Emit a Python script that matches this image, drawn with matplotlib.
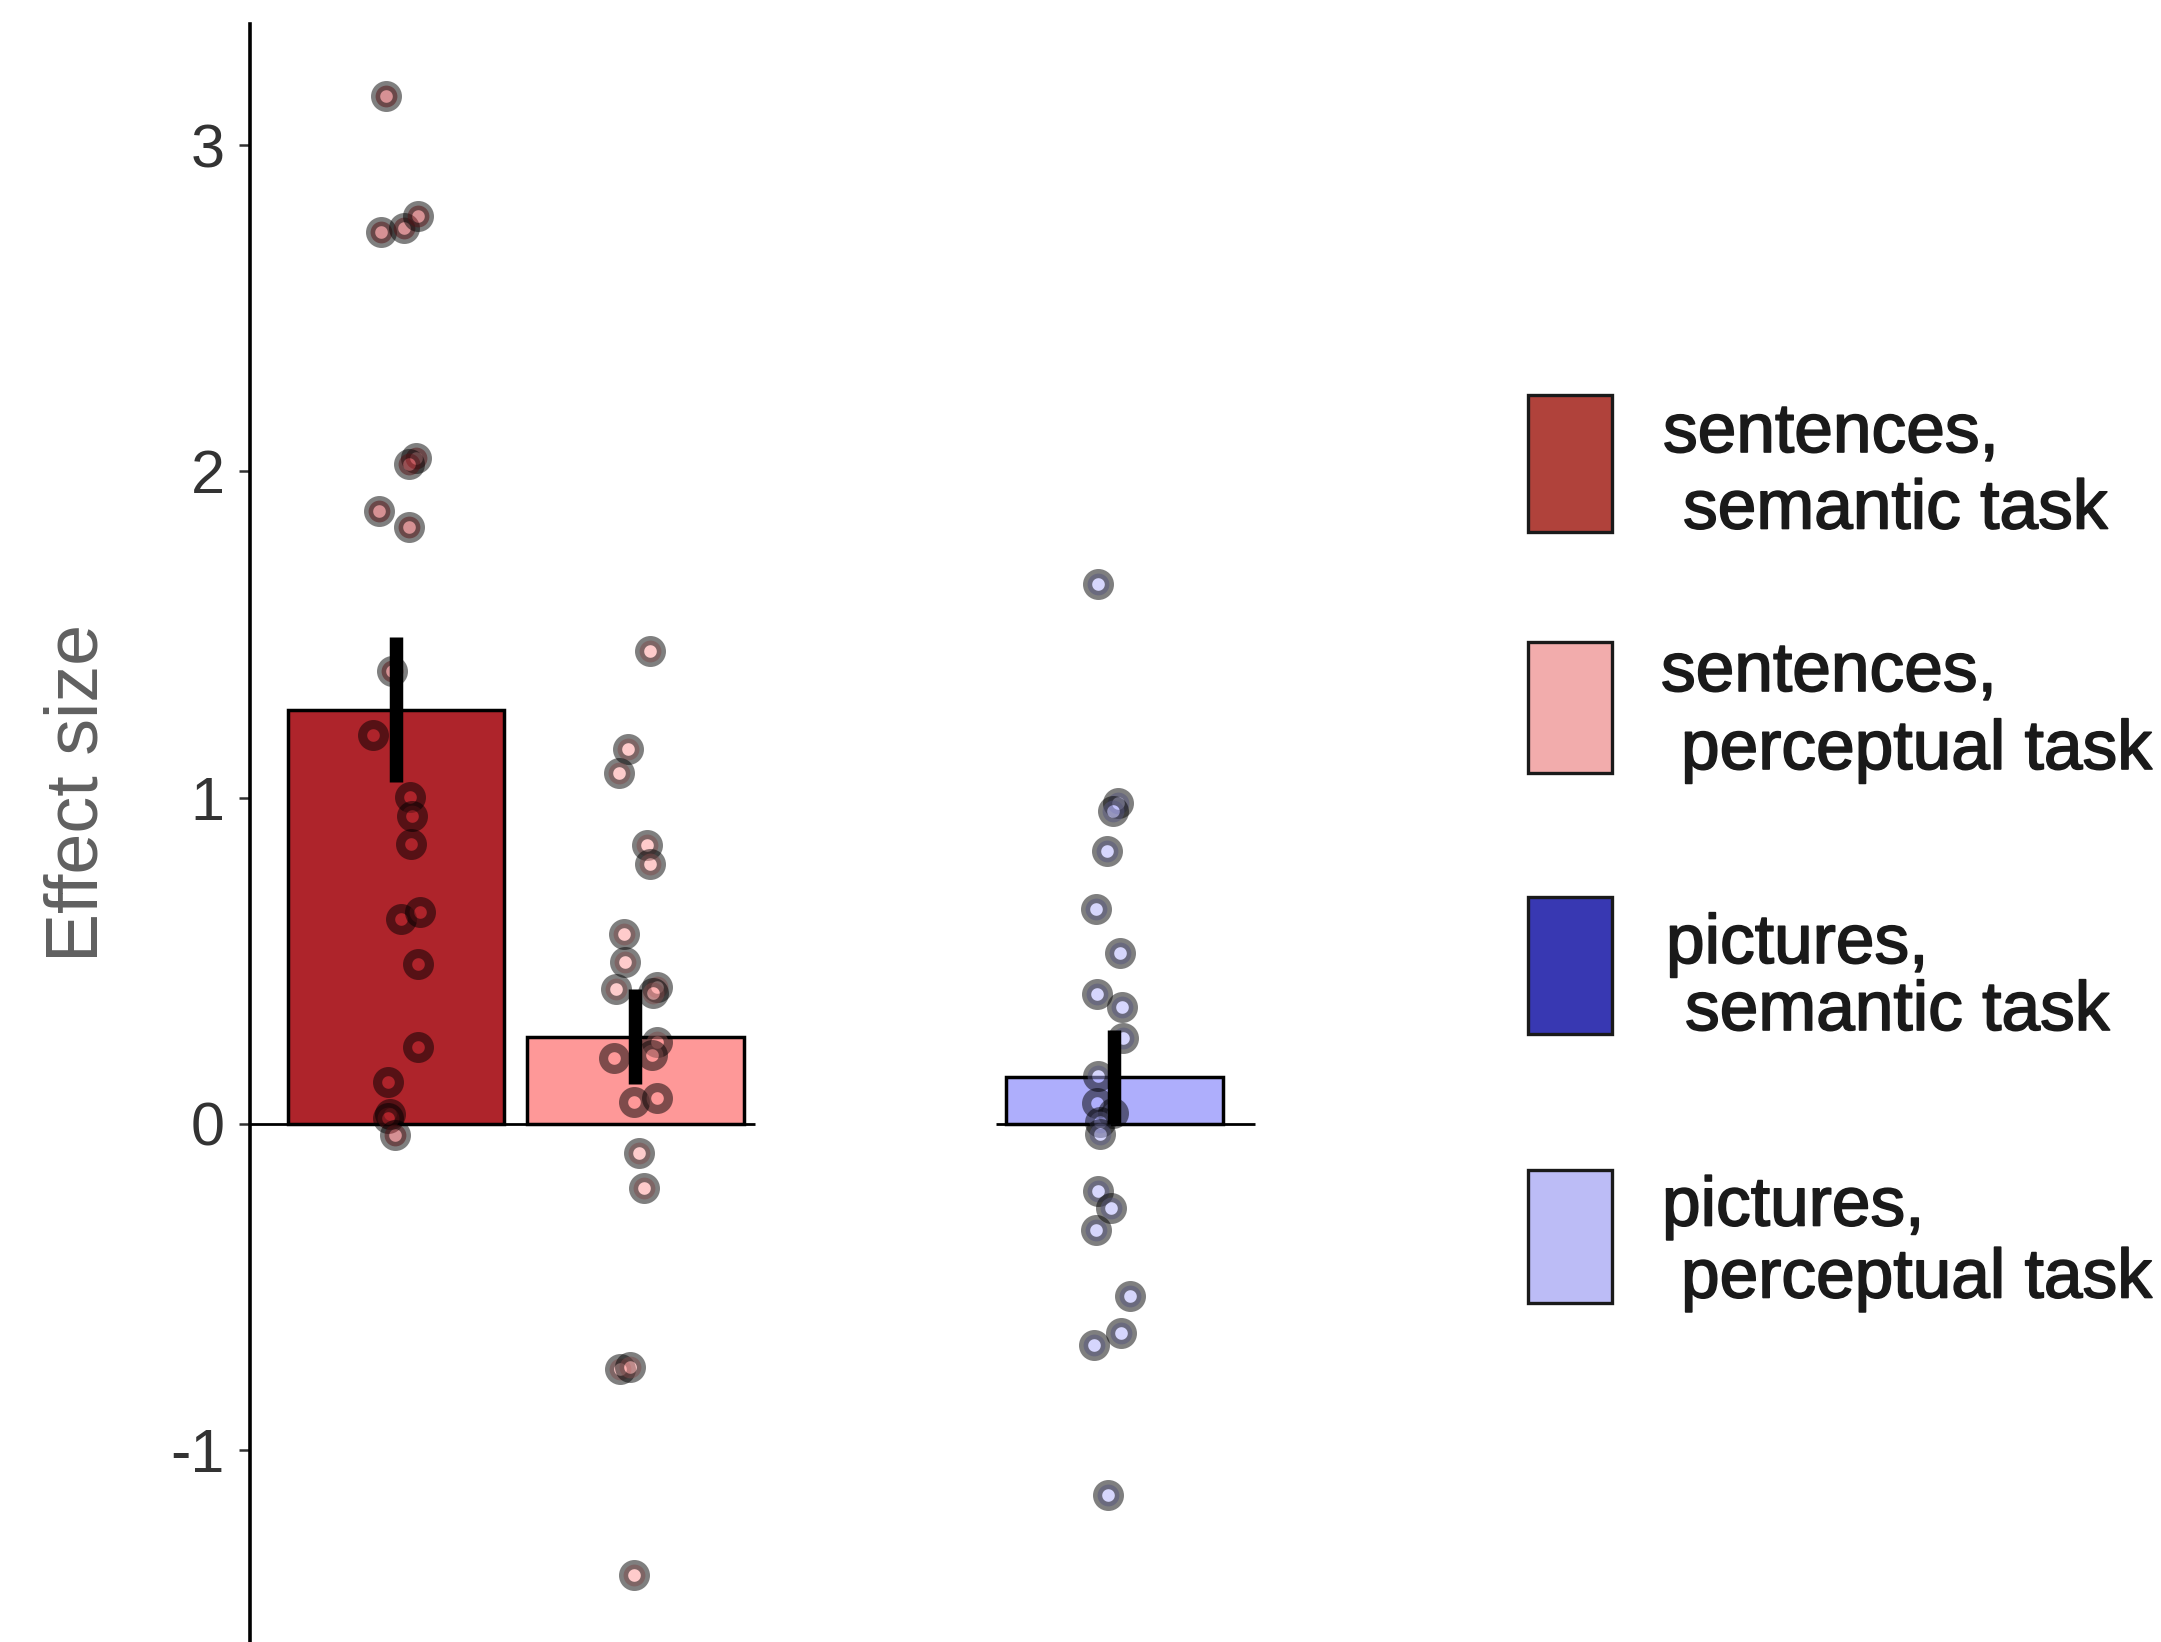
import matplotlib
matplotlib.use("Agg")
import matplotlib.pyplot as plt
import matplotlib.patheffects as pe
import numpy as np
from matplotlib.patches import Rectangle
from matplotlib.colors import to_rgba

# condition labels (legend) and bar summaries
legend_lines = [("sentences,", "semantic task"),
                ("sentences,", "perceptual task"),
                ("pictures,", "semantic task"),
                ("pictures,", "perceptual task")]
legend_colors = ["#B0423B", "#F2ACAC", "#3838B2", "#BCBCF6"]

bar_pos = [0, 1, 3]          # pictures/semantic has no bar
bar_means = [1.27, 0.268, 0.145]
bar_sems = [0.222, 0.145, 0.144]
bar_colors = ["#AE242B", "#FE9898", "#AEAEFC"]

# per-participant effect sizes, with the horizontal jitter used when plotting
sent_sem = [3.151, 2.734, 2.747, 2.783, 2.041, 2.022, 1.880, 1.830, 1.388, 1.192, 1.003,
            0.944, 0.857, 0.628, 0.651, 0.490, 0.237, 0.130, 0.032, 0.018, -0.035]
sent_sem_jit = [-0.043, -0.061, 0.033, 0.091, 0.084, 0.054, -0.072, 0.056, -0.018, -0.098, 0.058,
                0.067, 0.063, 0.021, 0.099, 0.090, 0.090, -0.033, -0.025, -0.033, -0.006]

sent_per = [1.450, 1.148, 1.077, 0.855, 0.797, 0.583, 0.496, 0.415, 0.420, 0.400,
            0.252, 0.211, 0.201, 0.068, 0.079, -0.088, -0.196, -0.752, -0.746, -1.383]
sent_per_jit = [0.060, -0.032, -0.069, 0.050, 0.060, -0.049, -0.042, -0.083, 0.089, 0.073,
                0.089, 0.067, -0.090, -0.006, 0.089, 0.016, 0.034, -0.064, -0.023, -0.006]

pict_per = [1.655, 0.984, 0.959, 0.838, 0.660, 0.523, 0.398, 0.359, 0.265, 0.148, 0.064,
            0.035, 0.007, -0.030, -0.204, -0.257, -0.325, -0.526, -0.640, -0.677, -1.138]
pict_per_jit = [-0.070, 0.016, -0.005, -0.033, -0.078, 0.023, -0.074, 0.033, 0.037, -0.068, -0.074,
                -0.005, -0.061, -0.061, -0.070, -0.016, -0.078, 0.065, 0.026, -0.084, -0.026]

yticks = [-1, 0, 1, 2, 3]
ytick_labels = ["-1", "0", "1", "2", "3"]

W, H, DPI = 2161, 1642, 100
plt.rcParams["font.family"] = ["Liberation Sans", "DejaVu Sans"]

fig = plt.figure(figsize=(W / DPI, H / DPI), dpi=DPI)
fig.patch.set_facecolor("white")

ax = fig.add_axes([249.5 / W, 0, (1330 - 249.5) / W, (H - 24) / H])
ax.set_xlim(-0.6117, 3.9)
ax.set_ylim(-1.5875, 3.371)

ax.bar(bar_pos, bar_means, width=0.905, color=bar_colors, edgecolor="black",
       linewidth=2.5, zorder=1)
# zero line under each group of bars
ax.hlines([0, 0], [-0.6117, 2.505], [1.50, 3.587], color="black", lw=2, zorder=2)

groups = [(0, sent_sem, sent_sem_jit, bar_colors[0]),
          (1, sent_per, sent_per_jit, bar_colors[1]),
          (3, pict_per, pict_per_jit, bar_colors[2])]
for pos, vals, jit, col in groups:
    ax.plot(pos + np.array(jit), vals, "o", linestyle="none", ms=15.7, mew=6.6,
            mfc=to_rgba(col, 0.5), mec=(0, 0, 0, 0.5), zorder=3)

ax.errorbar(bar_pos, bar_means, yerr=bar_sems, fmt="none", ecolor="black",
            elinewidth=9.7, capsize=0, zorder=4)

for s in ["top", "right", "bottom"]:
    ax.spines[s].set_visible(False)
ax.spines["left"].set_linewidth(2.6)
ax.set_xticks([])
ax.set_yticks(yticks)
ax.set_yticklabels(ytick_labels)
ax.tick_params(axis="y", length=8, width=1.8, color="#333333", pad=10,
               labelsize=44, labelcolor="#333333")

fig.text(97 / W, 1 - 792.5 / H, "Effect size", rotation=90, rotation_mode="anchor",
         ha="center", va="baseline", fontsize=53, color="#606060")

# legend: boxes and two-line labels
box_tops = [395, 642, 897, 1170]
box_heights = [137, 131, 137, 133]
line1_base = [452, 691, 963, 1225.5]
line2_base = [528.5, 769, 1030, 1297.5]
line1_x = [1663, 1661, 1666, 1662]
line2_x = [1683, 1681, 1685, 1681]
heavy = [pe.withStroke(linewidth=1.2, foreground="#1a1a1a")]
for i, (l1, l2) in enumerate(legend_lines):
    fig.add_artist(Rectangle((1528 / W, 1 - (box_tops[i] + box_heights[i]) / H),
                             84 / W, box_heights[i] / H, transform=fig.transFigure,
                             facecolor=legend_colors[i], edgecolor="#1a1a1a", lw=2.4))
    fig.text(line1_x[i] / W, 1 - line1_base[i] / H, l1, ha="left", va="baseline",
             fontsize=50, color="#1a1a1a", path_effects=heavy)
    fig.text(line2_x[i] / W, 1 - line2_base[i] / H, l2, ha="left", va="baseline",
             fontsize=50, color="#1a1a1a", path_effects=heavy)

fig.savefig("out.png", dpi=DPI)
